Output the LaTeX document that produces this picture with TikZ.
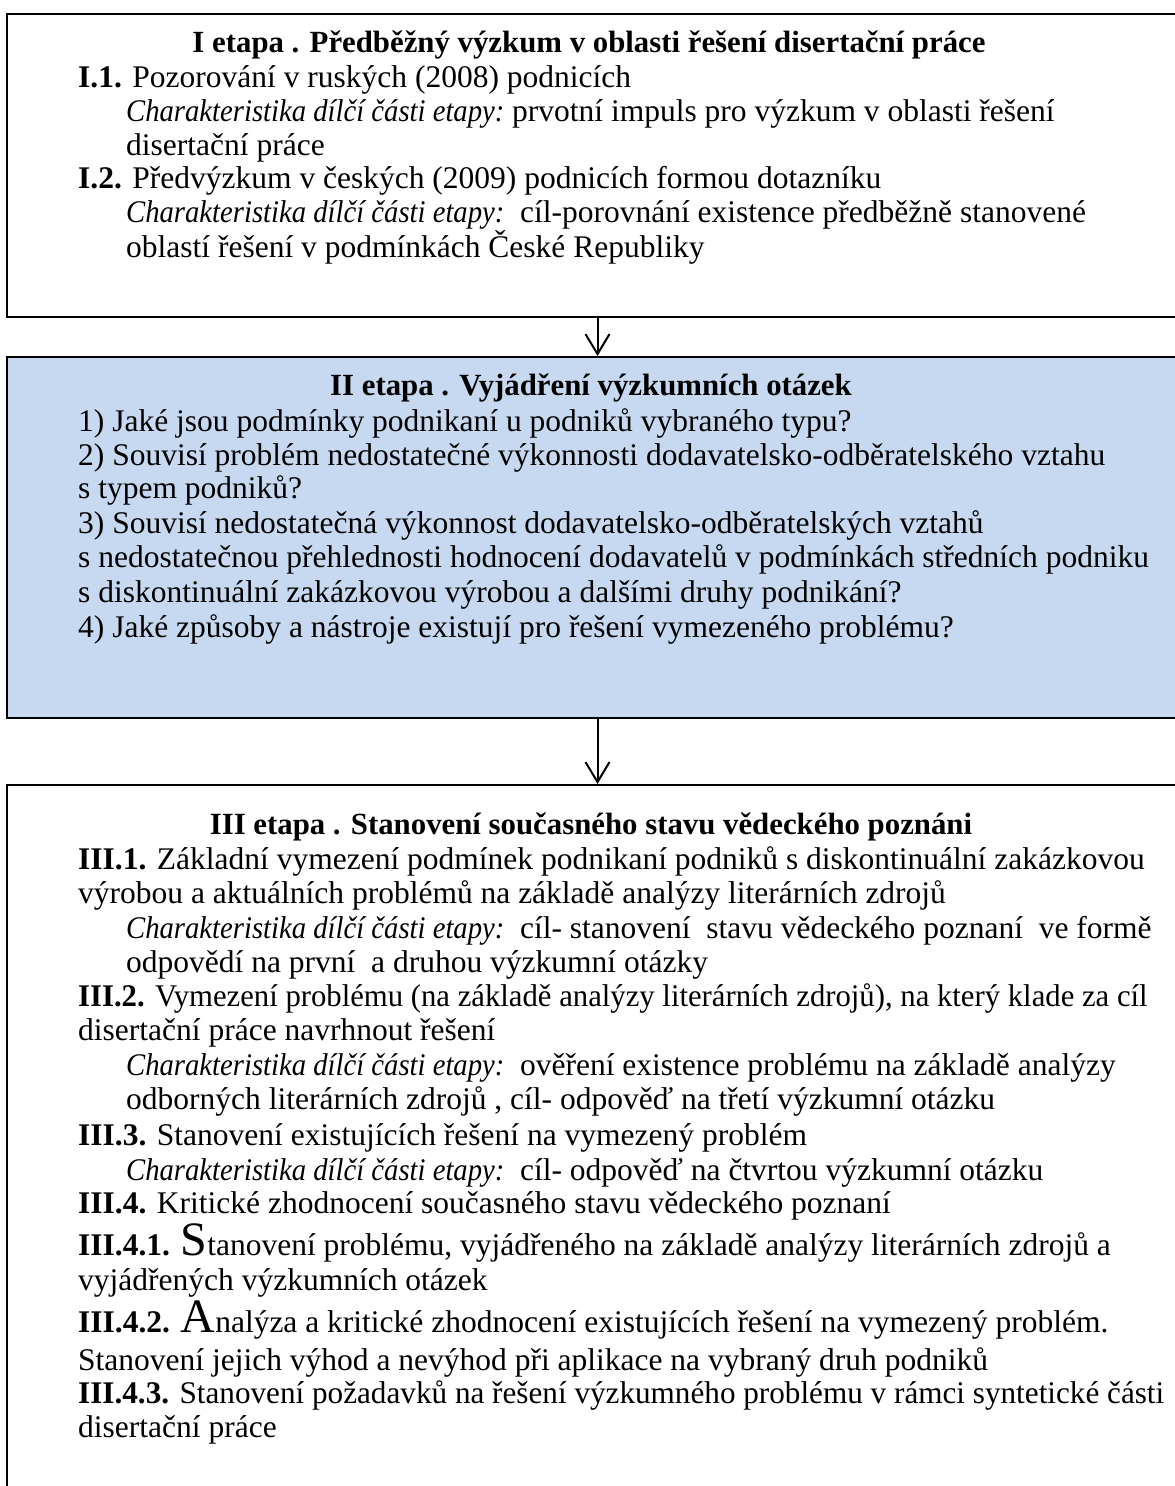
\documentclass[tikz,border=0pt]{standalone}
\usepackage{graphicx}
\usepackage{fontspec}
\setmainfont{Liberation Serif}
\usetikzlibrary{arrows.meta}
\definecolor{qblue}{HTML}{C6D9F1}
\newcommand{\chartext}{\scalebox{0.91}[1]{\itshape Charakteristika dílčí části etapy:}}
\newcommand{\dropletter}[1]{{\fontsize{48}{34}\selectfont #1}}

\begin{document}
\begin{tikzpicture}[x=1pt,y=-1pt,
    stagebox/.style={draw,line width=2pt,minimum width=1181pt,inner sep=0pt},
    rowtext/.style={anchor=base west,inner sep=0pt,font=\fontsize{31.5}{34}\selectfont},
    headtext/.style={anchor=base,inner sep=0pt,font=\fontsize{30.8}{34}\selectfont\bfseries},
    flow/.style={line width=2pt,-{Straight Barb[length=20pt,width=24pt]}}]
        \useasboundingbox (0,0) rectangle (1175,1486);
        % the three stages
        \node[stagebox,minimum height=303pt] (etapa1) at (597.5,165.5) {};
        \node[stagebox,minimum height=361pt,fill=qblue] (etapa2) at (597.5,537.5) {};
        \node[stagebox,minimum height=760pt] (etapa3) at (597.5,1165) {};
        \draw[flow] (etapa1.south) -- (etapa2.north);
        \draw[flow] (etapa2.south) -- (etapa3.north);
        % I etapa
        \node[headtext] (h1) at (589,52) {I etapa . Předběžný výzkum v oblasti řešení disertační práce};
        \node[rowtext] (a1) at (78,87) {\textbf{I.1.} Pozorování v ruských (2008) podnicích};
        \node[rowtext] (a2) at (126,121) {\chartext{} prvotní impuls pro výzkum v oblasti řešení};
        \node[rowtext] (a3) at (126,155) {disertační práce};
        \node[rowtext] (a4) at (78,188) {\textbf{I.2.} Předvýzkum v českých (2009) podnicích formou dotazníku};
        \node[rowtext] (a5) at (126,222) {\chartext{}~ cíl-porovnání existence předběžně stanovené};
        \node[rowtext] (a6) at (126,257) {oblastí řešení v podmínkách České Republiky};
        % II etapa
        \node[headtext] (h2) at (591,395) {II etapa . Vyjádření výzkumních otázek};
        \node[rowtext] (b1) at (78,431) {1) Jaké jsou podmínky podnikaní u podniků vybraného typu?};
        \node[rowtext] (b2) at (78,465) {2) Souvisí problém nedostatečné výkonnosti dodavatelsko-odběratelského vztahu};
        \node[rowtext] (b3) at (78,498) {s typem podniků?};
        \node[rowtext] (b4) at (78,533) {3) Souvisí nedostatečná výkonnost dodavatelsko-odběratelských vztahů};
        \node[rowtext] (b5) at (78,567) {s nedostatečnou přehlednosti hodnocení dodavatelů v podmínkách středních podniku};
        \node[rowtext] (b6) at (78,602) {s diskontinuální zakázkovou výrobou a dalšími druhy podnikání?};
        \node[rowtext] (b7) at (78,637) {4) Jaké způsoby a nástroje existují pro řešení vymezeného problému?};
        % III etapa
        \node[headtext] (h3) at (591,834) {III etapa . Stanovení současného stavu vědeckého poznáni};
        \node[rowtext] (c1) at (78,869) {\textbf{III.1.} Základní vymezení podmínek podnikaní podniků s diskontinuální zakázkovou};
        \node[rowtext] (c2) at (78,903) {výrobou a aktuálních problémů na základě analýzy literárních zdrojů};
        \node[rowtext] (c3) at (126,938) {\chartext{}~ cíl- stanovení~ stavu vědeckého poznaní~ ve formě};
        \node[rowtext] (c4) at (126,972) {odpovědí na první~ a druhou výzkumní otázky};
        \node[rowtext] (c5) at (78,1006) {\scalebox{0.975}[1]{\textbf{III.2.} Vymezení problému (na základě analýzy literárních zdrojů), na který klade za cíl}};
        \node[rowtext] (c6) at (78,1040) {disertační práce navrhnout řešení};
        \node[rowtext] (c7) at (126,1075) {\chartext{}~ ověření existence problému na základě analýzy};
        \node[rowtext] (c8) at (126,1109) {odborných literárních zdrojů , cíl- odpověď na třetí výzkumní otázku};
        \node[rowtext] (c9) at (78,1145) {\textbf{III.3.} Stanovení existujících řešení na vymezený problém};
        \node[rowtext] (c10) at (126,1180) {\chartext{}~ cíl- odpověď na čtvrtou výzkumní otázku};
        \node[rowtext] (c11) at (78,1213) {\textbf{III.4.} Kritické zhodnocení současného stavu vědeckého poznaní};
        \node[rowtext] (c12) at (78,1255) {\textbf{III.4.1.} \dropletter{S}tanovení problému, vyjádřeného na základě analýzy literárních zdrojů a};
        \node[rowtext] (c13) at (78,1290) {vyjádřených výzkumních otázek};
        \node[rowtext] (c14) at (78,1332) {\textbf{III.4.2.} \dropletter{A}nalýza a kritické zhodnocení existujících řešení na vymezený problém.};
        \node[rowtext] (c15) at (78,1370) {Stanovení jejich výhod a nevýhod při aplikace na vybraný druh podniků};
        \node[rowtext] (c16) at (78,1403) {\scalebox{0.99}[1]{\textbf{III.4.3.} Stanovení požadavků na řešení výzkumného problému v rámci syntetické části}};
        \node[rowtext] (c17) at (78,1437) {disertační práce};
\end{tikzpicture}
\end{document}
